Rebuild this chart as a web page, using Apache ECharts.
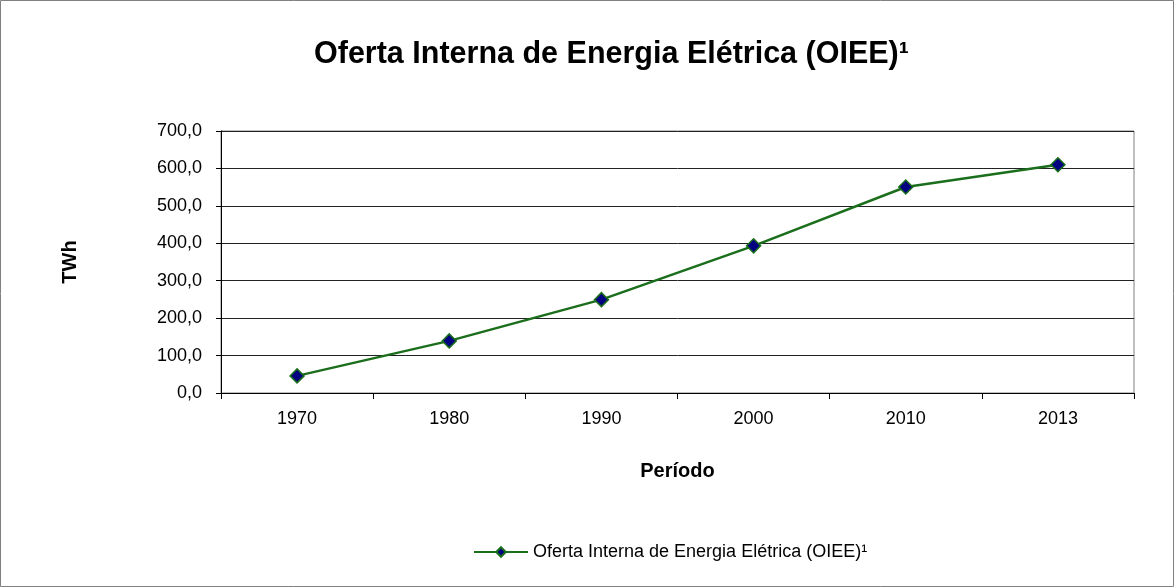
<!DOCTYPE html>
<html>
<head>
<meta charset="utf-8">
<script src="https://cdn.jsdelivr.net/npm/echarts@6/dist/echarts.min.js"></script>
<style>
  html, body { margin: 0; padding: 0; background: #fff; }
  #chart { width: 1175px; height: 588px; }
</style>
</head>
<body>
<div id="chart"></div>
<script>
'use strict';
// dados
const periodos = ['1970', '1980', '1990', '2000', '2010', '2013'];
const oiee = [45.7, 139.2, 249.4, 393.2, 550.4, 609.9];
const serieNome = 'Oferta Interna de Energia Elétrica (OIEE)¹';

const fonte = '"Liberation Sans", Arial, sans-serif';
const verde = '#1b6e1b';

const myChart = echarts.init(document.getElementById('chart'));
myChart.setOption({
    animation: false,
    textStyle: { fontFamily: fonte },
    title: {
        text: 'Oferta Interna de Energia Elétrica (OIEE)¹',
        left: 309,
        top: 34,
        textStyle: { fontSize: 30.5, fontWeight: 'bold', color: '#000', fontFamily: fonte }
    },
    graphic: [{
        type: 'rect',
        shape: { x: 0.5, y: 0.5, width: 1173, height: 586 },
        style: { fill: 'none', stroke: '#808080', lineWidth: 1 },
        silent: true
    }],
    legend: {
        bottom: 22,
        left: 468,
        itemWidth: 54,
        itemHeight: 12,
        itemGap: 5,
        textStyle: { fontSize: 18, color: '#000', fontFamily: fonte },
        data: [serieNome]
    },
    grid: {
        left: 221,
        right: 41,
        top: 131,
        bottom: 195,
        show: true,
        borderColor: '#808080',
        borderWidth: 1
    },
    xAxis: {
        type: 'category',
        data: periodos,
        boundaryGap: true,
        name: 'Período',
        nameLocation: 'middle',
        nameGap: 68,
        nameTextStyle: { fontSize: 20, fontWeight: 'bold', color: '#000' },
        axisLine: { lineStyle: { color: '#000', width: 1 } },
        axisTick: { show: true, length: 6, alignWithLabel: false, lineStyle: { color: '#000' } },
        axisLabel: { fontSize: 18, color: '#000', margin: 17 }
    },
    yAxis: {
        type: 'value',
        min: 0,
        max: 700,
        interval: 100,
        name: 'TWh',
        nameLocation: 'middle',
        nameGap: 141,
        nameRotate: 90,
        nameTextStyle: { fontSize: 20, fontWeight: 'bold', color: '#000' },
        axisLine: { show: true, lineStyle: { color: '#000', width: 1 } },
        axisTick: { show: true, length: 5, lineStyle: { color: '#000' } },
        axisLabel: {
            fontSize: 18,
            color: '#000',
            margin: 19,
            formatter: v => v.toFixed(1).replace('.', ',')
        },
        splitLine: { show: true, lineStyle: { color: '#222', width: 1 } }
    },
    series: [{
        name: serieNome,
        type: 'line',
        data: oiee,
        symbol: 'diamond',
        symbolSize: 14,
        lineStyle: { color: verde, width: 2.5 },
        itemStyle: { color: '#000080', borderColor: verde, borderWidth: 1.5 }
    }]
});
</script>
</body>
</html>
